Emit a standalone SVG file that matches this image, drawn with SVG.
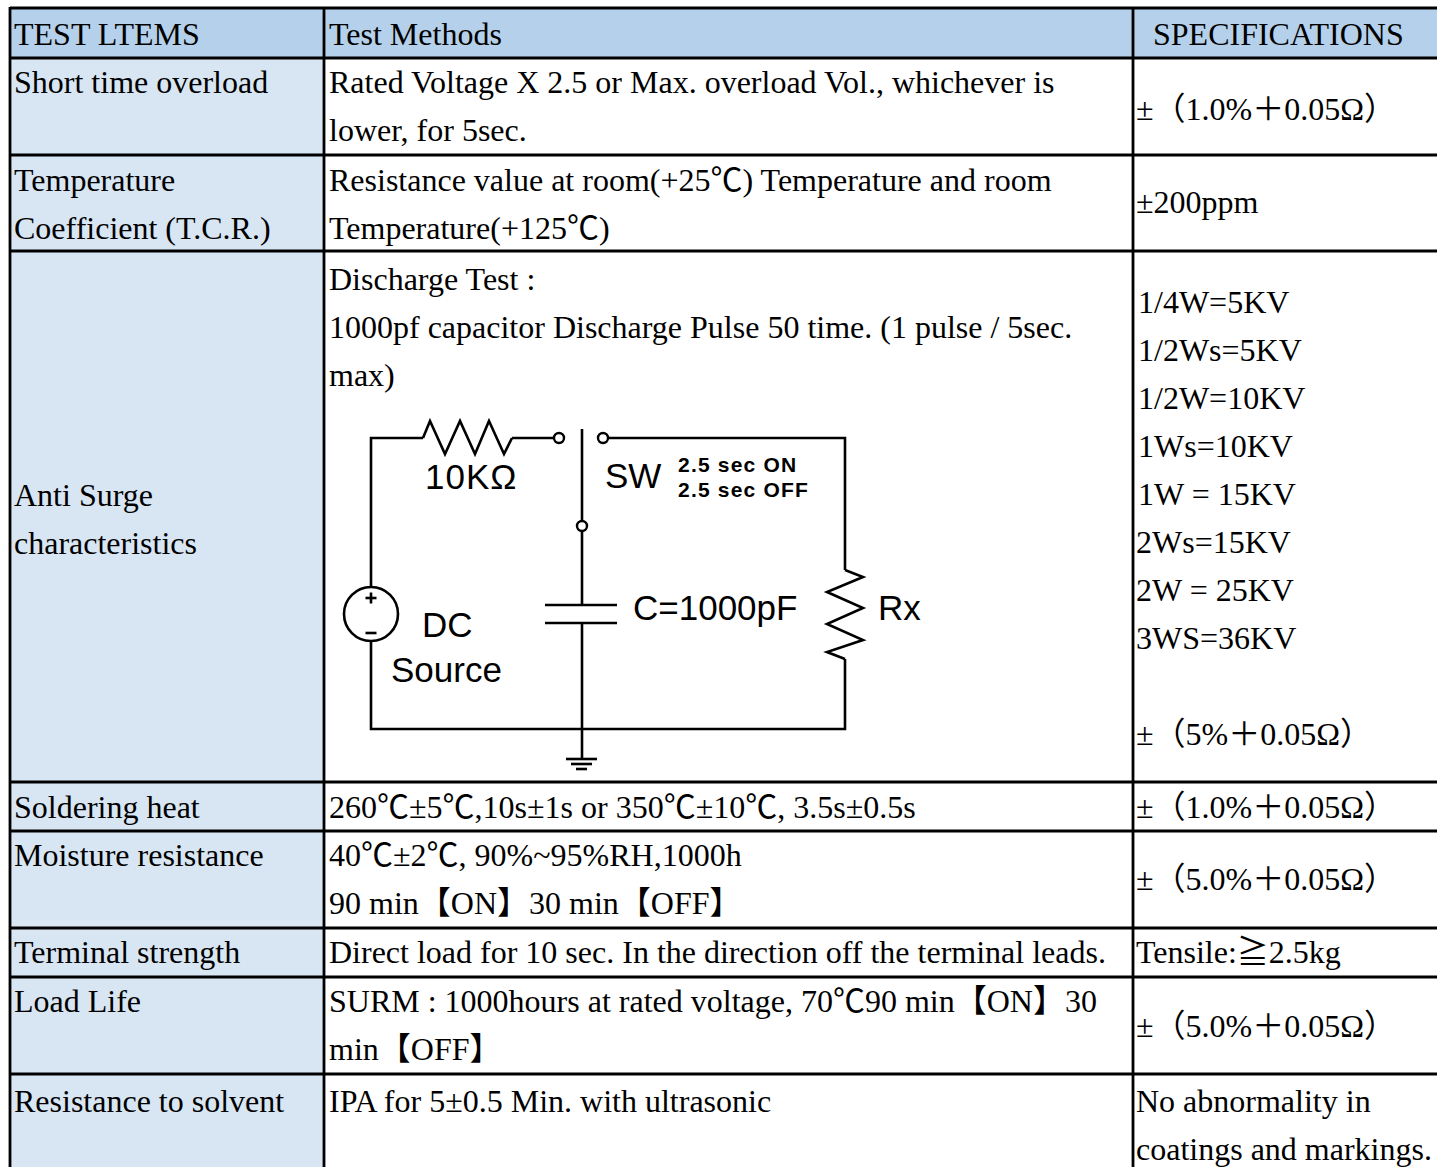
<svg xmlns="http://www.w3.org/2000/svg" width="1437" height="1167" viewBox="0 0 1437 1167">
<style>
.t{font-family:"Liberation Serif","Noto Sans CJK SC",serif;font-size:32px;fill:#000}
.c{font-family:"Liberation Sans",Arial,sans-serif;font-size:35px;fill:#000}
.cb{font-family:"Liberation Sans",Arial,sans-serif;font-size:21px;font-weight:bold;fill:#000;letter-spacing:1.2px}
.grid{stroke:#000;stroke-width:2.8;fill:none}
.w{stroke:#000;stroke-width:2.6;fill:none;stroke-linejoin:miter}
.pin{stroke:#000;stroke-width:2.4;fill:#fff}
</style>
<rect x="0" y="0" width="1437" height="1167" fill="#fff"/>
<g id="fills">
<rect x="10" y="8" width="1427" height="50" fill="#b5d0ea"/>
<rect x="10" y="58" width="314" height="1109" fill="#d8e6f4"/>
</g>
<g id="grid" class="grid">
<line x1="10" y1="8" x2="1437" y2="8"/>
<line x1="10" y1="58" x2="1437" y2="58"/>
<line x1="10" y1="155" x2="1437" y2="155"/>
<line x1="10" y1="251" x2="1437" y2="251"/>
<line x1="10" y1="782" x2="1437" y2="782"/>
<line x1="10" y1="831" x2="1437" y2="831"/>
<line x1="10" y1="928" x2="1437" y2="928"/>
<line x1="10" y1="977" x2="1437" y2="977"/>
<line x1="10" y1="1074" x2="1437" y2="1074"/>
<line x1="10" y1="7" x2="10" y2="1167"/>
<line x1="324" y1="7" x2="324" y2="1167"/>
<line x1="1133" y1="7" x2="1133" y2="1167"/>
</g>
<g id="header">
<text class="t" x="14" y="45">TEST LTEMS</text>
<text class="t" x="329" y="45">Test Methods</text>
<text class="t" x="1153" y="45">SPECIFICATIONS</text>
</g>
<g id="row-short-time">
<text class="t" x="14" y="93">Short time overload</text>
<text class="t" x="329" y="93">Rated Voltage X 2.5 or Max. overload Vol., whichever is</text>
<text class="t" x="329" y="141">lower, for 5sec.</text>
<text class="t" x="1136" y="120">±（1.0%＋0.05Ω）</text>
</g>
<g id="row-tcr">
<text class="t" x="14" y="191">Temperature</text>
<text class="t" x="14" y="239">Coefficient (T.C.R.)</text>
<text class="t" x="329" y="191">Resistance value at room(+25℃) Temperature and room</text>
<text class="t" x="329" y="239">Temperature(+125℃)</text>
<text class="t" x="1136" y="213">±200ppm</text>
</g>
<g id="row-anti-surge">
<text class="t" x="14" y="506">Anti Surge</text>
<text class="t" x="14" y="554">characteristics</text>
<text class="t" x="329" y="290">Discharge Test :</text>
<text class="t" x="329" y="338">1000pf capacitor Discharge Pulse 50 time. (1 pulse / 5sec.</text>
<text class="t" x="329" y="386">max)</text>
<text class="t" x="1138" y="313">1/4W=5KV</text>
<text class="t" x="1138" y="361">1/2Ws=5KV</text>
<text class="t" x="1138" y="409">1/2W=10KV</text>
<text class="t" x="1138" y="457">1Ws=10KV</text>
<text class="t" x="1138" y="505">1W = 15KV</text>
<text class="t" x="1136" y="553">2Ws=15KV</text>
<text class="t" x="1136" y="601">2W = 25KV</text>
<text class="t" x="1136" y="649">3WS=36KV</text>
<text class="t" x="1136" y="745">±（5%＋0.05Ω）</text>
</g>
<g id="circuit-source">
<circle class="w" cx="371" cy="614" r="27"/>
<line class="w" x1="365.5" y1="598" x2="376.5" y2="598" stroke-width="2.4"/>
<line class="w" x1="371" y1="592.5" x2="371" y2="603.5" stroke-width="2.4"/>
<line class="w" x1="365.5" y1="633" x2="376.5" y2="633" stroke-width="2.4"/>
<text class="c" x="422" y="637">DC</text>
<text class="c" x="391" y="682">Source</text>
</g>
<g id="circuit-r10k">
<polyline class="w" points="423,438 430,421 445,454 460,421 475,454 489,421 504,454 512,438"/>
<text class="c" x="425" y="489" letter-spacing="1">10KΩ</text>
</g>
<g id="circuit-switch">
<line class="w" x1="582" y1="429" x2="582" y2="521"/>
<circle class="pin" cx="559" cy="438" r="5"/>
<circle class="pin" cx="603" cy="438" r="5"/>
<circle class="pin" cx="582" cy="526" r="5"/>
<text class="c" x="605" y="488">SW</text>
<text class="cb" x="678" y="472">2.5 sec ON</text>
<text class="cb" x="678" y="497">2.5 sec OFF</text>
</g>
<g id="circuit-cap">
<line class="w" x1="545" y1="605" x2="617" y2="605"/>
<line class="w" x1="545" y1="623" x2="617" y2="623"/>
<text class="c" x="633" y="620">C=1000pF</text>
</g>
<g id="circuit-rx">
<polyline class="w" points="845,570 863,577 827,592 863,608 827,624 863,640 827,652 845,659"/>
<text class="c" x="878" y="620">Rx</text>
</g>
<g id="circuit-ground">
<line class="w" x1="566" y1="759" x2="597" y2="759"/>
<line class="w" x1="571" y1="764" x2="592" y2="764"/>
<line class="w" x1="576" y1="769" x2="587" y2="769"/>
</g>
<g id="connectors" class="w">
<polyline points="371,587 371,438 423,438"/>
<line x1="512" y1="438" x2="554" y2="438"/>
<polyline points="608,438 845,438 845,570"/>
<polyline points="371,641 371,729 845,729 845,659"/>
<line x1="582" y1="531" x2="582" y2="605"/>
<line x1="582" y1="623" x2="582" y2="759"/>
</g>
<g id="row-soldering">
<text class="t" x="14" y="818">Soldering heat</text>
<text class="t" x="329" y="818">260℃±5℃,10s±1s or 350℃±10℃, 3.5s±0.5s</text>
<text class="t" x="1136" y="818">±（1.0%＋0.05Ω）</text>
</g>
<g id="row-moisture">
<text class="t" x="14" y="866">Moisture resistance</text>
<text class="t" x="329" y="866">40℃±2℃, 90%~95%RH,1000h</text>
<text class="t" x="329" y="914">90 min【ON】30 min【OFF】</text>
<text class="t" x="1136" y="890">±（5.0%＋0.05Ω）</text>
</g>
<g id="row-terminal">
<text class="t" x="14" y="963">Terminal strength</text>
<text class="t" x="329" y="963">Direct load for 10 sec. In the direction off the terminal leads.</text>
<text class="t" x="1136" y="963">Tensile:≧2.5kg</text>
</g>
<g id="row-load-life">
<text class="t" x="14" y="1012">Load Life</text>
<text class="t" x="329" y="1012">SURM : 1000hours at rated voltage, 70℃90 min【ON】30</text>
<text class="t" x="329" y="1060">min【OFF】</text>
<text class="t" x="1136" y="1037">±（5.0%＋0.05Ω）</text>
</g>
<g id="row-solvent">
<text class="t" x="14" y="1112">Resistance to solvent</text>
<text class="t" x="329" y="1112">IPA for 5±0.5 Min. with ultrasonic</text>
<text class="t" x="1136" y="1112">No abnormality in</text>
<text class="t" x="1136" y="1160">coatings and markings.</text>
</g>
</svg>
